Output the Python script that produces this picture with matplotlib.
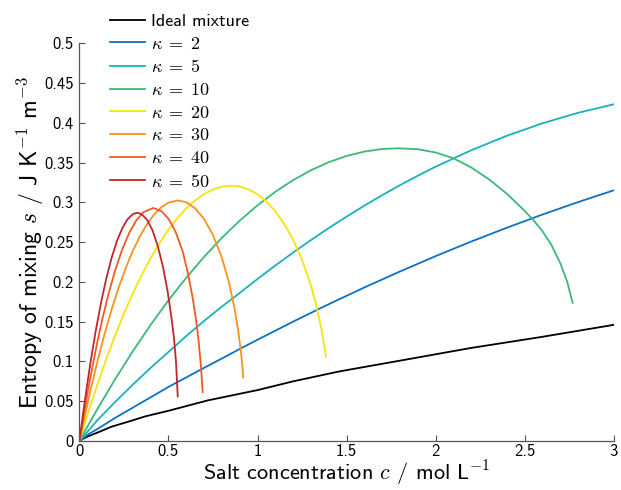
import matplotlib
matplotlib.use("Agg")
import matplotlib.pyplot as plt

plt.rcParams['font.family'] = ['cmss10', 'DejaVu Sans']
plt.rcParams['mathtext.fontset'] = 'cm'
plt.rcParams['axes.unicode_minus'] = False

labels = ['Ideal mixture', r'$\kappa\;=\;2$', r'$\kappa\;=\;5$', r'$\kappa\;=\;10$',
          r'$\kappa\;=\;20$', r'$\kappa\;=\;30$', r'$\kappa\;=\;40$', r'$\kappa\;=\;50$']
colors = ['#000000', '#0a72c6', '#17b3b8', '#3cb878', '#f5e50a', '#f7931e', '#f15a24', '#c1272d']

c_ideal = [0, 0.01, 0.02, 0.05, 0.1, 0.18, 0.27, 0.37, 0.5, 0.72, 1.0, 1.2, 1.46, 1.8, 2.2, 2.6, 3.0]
s_ideal = [0, 0.0016, 0.0028, 0.006, 0.0105, 0.018, 0.024, 0.031, 0.038, 0.051, 0.064, 0.075, 0.0875, 0.101,
           0.117, 0.131, 0.146]

c_k2 = [0, 0.05, 0.1, 0.2, 0.3, 0.4, 0.5, 0.6, 0.7, 0.8, 0.9, 1.0, 1.2, 1.4, 1.6, 1.8, 2.0, 2.2, 2.4, 2.6,
        2.8, 3.0]
s_k2 = [0, 0.0085, 0.015, 0.029, 0.042, 0.055, 0.068, 0.080, 0.092, 0.1037, 0.1157, 0.1273, 0.1501, 0.172,
        0.193, 0.2131, 0.2324, 0.2507, 0.2681, 0.2847, 0.3003, 0.3151]

c_k5 = [0, 0.05, 0.1, 0.2, 0.3, 0.4, 0.5, 0.6, 0.7, 0.8, 0.9, 1.0, 1.1, 1.2, 1.3, 1.4, 1.5, 1.6, 1.7, 1.8,
        1.9, 2.0, 2.2, 2.4, 2.6, 2.8, 3.0]
s_k5 = [0, 0.013, 0.026, 0.049, 0.071, 0.092, 0.112, 0.132, 0.151, 0.169, 0.1861, 0.2037, 0.2206, 0.2369,
        0.2526, 0.2677, 0.2821, 0.2959, 0.3090, 0.3216, 0.3335, 0.3448, 0.3655, 0.3837, 0.3994, 0.4126, 0.4233]

c_k10 = [0, 0.02, 0.05, 0.1, 0.2, 0.3, 0.4, 0.5, 0.6, 0.7, 0.8, 0.9, 1.0, 1.1, 1.2, 1.3, 1.4, 1.5, 1.6, 1.7,
         1.79, 1.9, 2.0, 2.1, 2.2, 2.3, 2.4, 2.5, 2.55, 2.6, 2.65, 2.7, 2.74, 2.77]
s_k10 = [0, 0.0082, 0.0203, 0.040, 0.0776, 0.1130, 0.1461, 0.1769, 0.2054, 0.2315, 0.2555, 0.2770, 0.2963,
         0.3133, 0.3280, 0.3404, 0.3505, 0.3584, 0.3639, 0.3671, 0.368, 0.3668, 0.3628, 0.3555, 0.3440,
         0.3290, 0.3110, 0.2895, 0.2776, 0.2640, 0.2470, 0.2240, 0.200, 0.1737]

c_k20 = [0, 0.01, 0.03, 0.06, 0.1, 0.15, 0.2, 0.25, 0.3, 0.35, 0.4, 0.45, 0.5, 0.55, 0.6, 0.65, 0.7, 0.75,
         0.8, 0.855, 0.9, 0.95, 1.0, 1.05, 1.1, 1.15, 1.2, 1.25, 1.3, 1.33, 1.36, 1.385]
s_k20 = [0, 0.0075, 0.0221, 0.0435, 0.0707, 0.1028, 0.1326, 0.1603, 0.1858, 0.2090, 0.2301, 0.2490, 0.2657,
         0.2801, 0.2926, 0.3026, 0.3104, 0.3162, 0.3197, 0.321, 0.3200, 0.3164, 0.3101, 0.3010, 0.2888,
         0.2730, 0.2531, 0.2279, 0.1955, 0.1708, 0.1398, 0.106]

c_k30 = [0, 0.01, 0.03, 0.06, 0.1, 0.14, 0.18, 0.22, 0.26, 0.3, 0.34, 0.38, 0.42, 0.46, 0.5, 0.553, 0.6,
         0.65, 0.7, 0.75, 0.8, 0.84, 0.87, 0.89, 0.905, 0.915, 0.92]
s_k30 = [0, 0.0108, 0.0319, 0.0621, 0.0995, 0.1338, 0.1649, 0.1928, 0.2176, 0.2392, 0.2576, 0.2729, 0.2850,
         0.2940, 0.2997, 0.3025, 0.3002, 0.2925, 0.2791, 0.2589, 0.2303, 0.1990, 0.1678, 0.1411, 0.1158,
         0.0943, 0.080]

c_k40 = [0, 0.01, 0.03, 0.06, 0.1, 0.13, 0.16, 0.2, 0.24, 0.28, 0.32, 0.36, 0.415, 0.46, 0.5, 0.54, 0.58,
         0.61, 0.635, 0.655, 0.67, 0.682, 0.692]
s_k40 = [0, 0.014, 0.0408, 0.0786, 0.1242, 0.1548, 0.1824, 0.2144, 0.2409, 0.2620, 0.2777, 0.2878, 0.293,
         0.289, 0.2795, 0.2629, 0.2381, 0.2100, 0.1810, 0.1520, 0.1240, 0.0950, 0.0615]

c_k50 = [0, 0.01, 0.03, 0.06, 0.09, 0.12, 0.15, 0.18, 0.21, 0.24, 0.27, 0.3, 0.325, 0.35, 0.38, 0.41, 0.44,
         0.47, 0.495, 0.515, 0.53, 0.542, 0.552]
s_k50 = [0, 0.0174, 0.0505, 0.0962, 0.1369, 0.1728, 0.2038, 0.230, 0.2511, 0.2674, 0.2788, 0.2853, 0.287,
         0.285, 0.278, 0.265, 0.245, 0.218, 0.188, 0.158, 0.131, 0.100, 0.056]

series_c = [c_ideal, c_k2, c_k5, c_k10, c_k20, c_k30, c_k40, c_k50]
series_s = [s_ideal, s_k2, s_k5, s_k10, s_k20, s_k30, s_k40, s_k50]

xticks = [0, 0.5, 1, 1.5, 2, 2.5, 3]
xticklabels = ['0', '0.5', '1', '1.5', '2', '2.5', '3']
yticks = [0, 0.05, 0.1, 0.15, 0.2, 0.25, 0.3, 0.35, 0.4, 0.45, 0.5]
yticklabels = ['0', '0.05', '0.1', '0.15', '0.2', '0.25', '0.3', '0.35', '0.4', '0.45', '0.5']

fig = plt.figure(figsize=(6.21, 4.90), dpi=100)
ax = fig.add_axes([0.128, 0.1, 0.86, 0.8116])

lines = []
for cc, ss, col, lab in zip(series_c, series_s, colors, labels):
    ln, = ax.plot(cc, ss, color=col, lw=1.3, label=lab, solid_joinstyle='round')
    lines.append(ln)

ax.set_xlim(0, 3)
ax.set_ylim(0, 0.5)
ax.set_xticks(xticks)
ax.set_xticklabels(xticklabels)
ax.set_yticks(yticks)
ax.set_yticklabels(yticklabels)
for sp in ['top', 'right']:
    ax.spines[sp].set_visible(False)
for sp in ['left', 'bottom']:
    ax.spines[sp].set_color('#555555')
    ax.spines[sp].set_linewidth(0.9)
ax.tick_params(direction='in', length=4, width=0.8, color='#555555', labelsize=12)
ax.tick_params(axis='x', pad=2)
ax.tick_params(axis='y', pad=4)

ax.set_xlabel(r'Salt concentration $c$ / mol L$^{-1}$', fontsize=16, labelpad=0)
ax.set_ylabel(r'Entropy of mixing $s$ / J K$^{-1}$ m$^{-3}$', fontsize=17, labelpad=-1)

fig.legend(handles=lines, labels=labels, loc='upper left', bbox_to_anchor=(0.177, 0.973),
           frameon=False, fontsize=13, handlelength=1.95, handletextpad=0.3, labelspacing=0.37,
           borderpad=0, borderaxespad=0)

fig.savefig('out.png', dpi=100)
